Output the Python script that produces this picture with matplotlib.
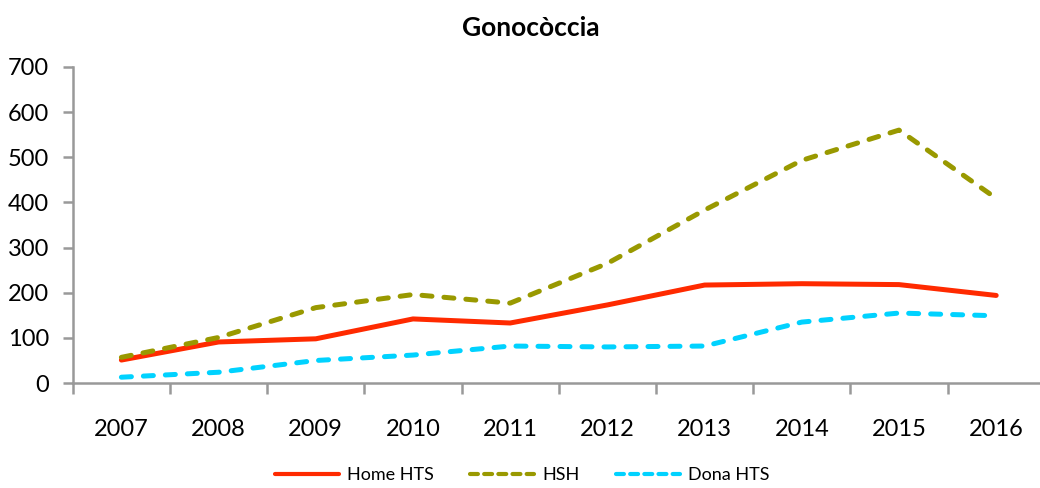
import matplotlib
matplotlib.use('Agg')
import matplotlib.pyplot as plt
from matplotlib.lines import Line2D
import numpy as np

years = [2007, 2008, 2009, 2010, 2011, 2012, 2013, 2014, 2015, 2016]
home_hts = [51, 91, 98, 142, 133, 173, 217, 220, 218, 194]
hsh = [57, 101, 167, 196, 177, 265, 383, 493, 560, 409]
dona_hts = [13, 24, 50, 62, 82, 80, 82, 135, 155, 149]

plt.rcParams['font.family'] = ['Lato', 'DejaVu Sans']

fig = plt.figure(figsize=(10.4, 4.88), dpi=100)
ax = fig.add_axes([0.070, 0.215, 0.9346, 0.648])
ax.spines['bottom'].set_clip_on(False)

x = np.arange(len(years))
ax.plot(x, home_hts, color='#FF2A00', lw=3.6, solid_capstyle='round')
ax.plot(x, hsh, color='#999900', lw=3.6, ls=(0, (2.0, 2.4)), dash_capstyle='round')
ax.plot(x, dona_hts, color='#00D2FF', lw=3.6, ls=(0, (2.0, 2.4)), dash_capstyle='round')

ax.set_xlim(-0.5, len(years) - 0.5)
ax.set_ylim(0, 700)
ax.set_yticks(range(0, 701, 100))
ax.set_xticks(x)
ax.set_xticklabels([str(y) for y in years])
ax.set_xticks(np.arange(-0.5, len(years), 1), minor=True)

for s in ['top', 'right']:
    ax.spines[s].set_visible(False)
for s in ['left', 'bottom']:
    ax.spines[s].set_color('#999999')
    ax.spines[s].set_linewidth(1.8)

ax.tick_params(axis='x', which='major', length=0, labelsize=17, pad=26)
ax.tick_params(axis='x', which='minor', length=8, width=1.8, color='#999999', direction='out')
ax.tick_params(axis='y', length=7, width=1.8, color='#999999', labelsize=17, pad=10)

fig.text(0.51, 0.943, 'Gonocòccia', fontsize=19, fontweight='bold', ha='center', va='center')

handles = [
    Line2D([], [], color='#FF2A00', lw=3.0, solid_capstyle='round'),
    Line2D([], [], color='#999900', lw=3.0, ls=(0, (1.9, 1.5)), dash_capstyle='round'),
    Line2D([], [], color='#00D2FF', lw=3.0, ls=(0, (1.9, 1.5)), dash_capstyle='round'),
]
fig.legend(handles, ['Home HTS', 'HSH', 'Dona HTS'], loc='center', ncol=3, frameon=False,
           fontsize=13, bbox_to_anchor=(0.502, 0.026),
           handlelength=3.55, columnspacing=2.0, handletextpad=0.45, borderpad=0.1)

fig.savefig('out.png', dpi=100)
